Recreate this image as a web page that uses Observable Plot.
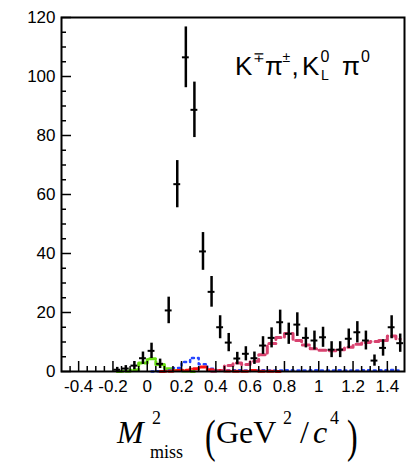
<!DOCTYPE html>
<html><head><meta charset="utf-8">
<script src="https://cdn.jsdelivr.net/npm/d3@7"></script>
<script src="https://cdn.jsdelivr.net/npm/@observablehq/plot@0.6"></script>
<style>body{margin:0;background:#fff} svg{display:block}</style>
</head><body><div id="chart"></div>
<script>
// ---- data ----
const dataX = [-0.175,-0.125,-0.075,-0.025,0.025,0.075,0.125,0.175,0.225,0.275,0.325,0.375,0.425,0.475,0.525,0.575,0.625,0.675,0.725,0.775,0.825,0.875,0.925,0.975,1.025,1.075,1.125,1.175,1.225,1.275,1.325,1.375,1.425,1.475];
const dataY = [0.6,1.0,2.0,4.5,7.0,2.6,20.7,63.5,106.5,88.7,40.7,27.0,15.0,9.8,4.4,6.0,4.5,8.8,11.4,16.7,12.8,15.9,11.4,10.5,11.6,7.4,7.4,11.1,13.3,10.5,3.7,8.0,15.0,9.6];
const dataErr = [0.8,1.0,1.4,2.1,2.6,1.6,4.5,8.0,10.3,9.4,6.4,5.2,3.9,3.1,2.1,2.4,2.1,3.0,3.4,4.1,3.6,4.0,3.4,3.2,3.4,2.7,2.7,3.3,3.6,3.2,1.9,2.8,3.9,3.1];

const greenX = [-0.175,-0.125,-0.075,-0.025,0.025,0.075,0.125,0.175,0.225,0.275];
const greenY = [0,0.1,0.5,2.9,4.3,2.4,0.9,0.3,0.2,0];

const blueX = [0.025,0.075,0.125,0.175,0.225,0.275,0.325,0.375,0.425,0.475,0.525,0.575,0.625,0.675,0.725,0.775,0.825,0.875,0.925,0.975,1.025,1.075,1.125,1.175,1.225,1.275,1.325,1.375,1.425,1.475];
const blueY = [0,0.1,0.3,1.2,3.2,4.6,2.5,0.9,0.4,0.3,0.4,0.3,0.3,0.4,0.3,0.3,0.4,0.3,0.3,0.4,0.3,0.3,0.4,0.3,0.3,0.4,0.3,0.4,0.5,0.3];

const redX = [0.075,0.125,0.175,0.225,0.275,0.325,0.375,0.425,0.475,0.525,0.575,0.625,0.675,0.725,0.775];
const redY = [0,0.1,0.3,0.4,0.9,1.5,0.6,0.3,0.2,0.1,0.1,0.3,0.1,0.1,0];

const pinkX = [0.375,0.425,0.475,0.525,0.575,0.625,0.675,0.725,0.775,0.825,0.875,0.925,0.975,1.025,1.075,1.125,1.175,1.225,1.275,1.325,1.375,1.425,1.475];
const pinkY = [0.1,0.3,2.0,2.9,2.4,3.5,5.7,9.5,11.5,12.9,10.5,9.0,7.7,7.2,7.0,7.4,8.2,9.2,9.8,10.2,10.5,12.0,11.0];

const xTicks = [-0.4,-0.2,0,0.2,0.4,0.6,0.8,1,1.2,1.4];
const yTicks = [0,20,40,60,80,100,120];
const xMinor = d3.range(-0.45, 1.5, 0.05).map(v => +v.toFixed(2));
const yMinor = d3.range(5, 120, 5);

// ---- layout ----
const W = 408, H = 462, mL = 61, mR = 4, mT = 17, mB = 91;
const innerW = W - mL - mR, innerH = H - mT - mB;

const pts = dataX.map((x, i) => ({x, y: dataY[i], lo: dataY[i] - dataErr[i], hi: dataY[i] + dataErr[i]}));
const series = (xs, ys) => xs.map((x, i) => ({x, y: ys[i]}));
const fmt = d => String(+d.toFixed(1));
const sans = "'Liberation Sans', Arial, Helvetica, sans-serif";

const plot = Plot.plot({
  width: W, height: H,
  marginLeft: mL, marginRight: mR, marginTop: mT, marginBottom: mB,
  x: {domain: [-0.5, 1.5], label: null},
  y: {domain: [0, 120], label: null},
  style: {fontFamily: sans, background: "#fff", color: "#000"},
  marks: [
    Plot.line(series(greenX, greenY), {x: "x", y: "y", curve: "step", stroke: "#66dd11", strokeWidth: 3, strokeDasharray: "6,3"}),
    Plot.line(series(blueX, blueY), {x: "x", y: "y", curve: "step", stroke: "#2646ff", strokeWidth: 2.5, strokeDasharray: "2,4"}),
    Plot.line(series(redX, redY), {x: "x", y: "y", curve: "step", stroke: "#ff1010", strokeWidth: 3, strokeDasharray: "6,3"}),
    Plot.line(series(pinkX, pinkY), {x: "x", y: "y", curve: "step", stroke: "#d8426f", strokeWidth: 3, strokeDasharray: "7,4"}),
    Plot.ruleX(pts, {x: "x", y1: "lo", y2: "hi", stroke: "#000", strokeWidth: 2.5, clip: true}),
    Plot.ruleY(pts, {y: "y", x1: d => d.x - 0.02, x2: d => d.x + 0.02, stroke: "#000", strokeWidth: 2}),
    Plot.tickX(xTicks, {x: d => d, insetTop: innerH - 10, stroke: "#000", strokeWidth: 1.5}),
    Plot.tickX(xMinor.filter(v => !xTicks.some(t => Math.abs(t - v) < 1e-6)), {x: d => d, insetTop: innerH - 5, stroke: "#000", strokeWidth: 1.5}),
    Plot.tickY(yTicks, {y: d => d, insetRight: innerW - 10, stroke: "#000", strokeWidth: 1.5}),
    Plot.tickY(yMinor.filter(v => v % 20 !== 0), {y: d => d, insetRight: innerW - 5, stroke: "#000", strokeWidth: 1.5}),
    Plot.axisX(xTicks, {tickSize: 0, tickPadding: 8, tickFormat: fmt, fontSize: 17, label: null}),
    Plot.axisY(yTicks, {tickSize: 0, tickPadding: 6, tickFormat: fmt, fontSize: 17, label: null}),
    Plot.frame({stroke: "#000", strokeWidth: 2})
  ]
});
document.getElementById("chart").appendChild(plot);

const svg = d3.select(plot);
const g = svg.append("g").attr("text-anchor", "start").attr("fill", "#000");
function txt(s, x, y, size, family, opts = {}) {
  const t = g.append("text").attr("text-anchor", "start")
    .attr("font-size", size).attr("font-family", family).text(s);
  if (opts.italic) t.attr("font-style", "italic");
  if (opts.scaleY) t.attr("transform", `translate(${x},${y}) scale(1,${opts.scaleY})`);
  else t.attr("x", x).attr("y", y);
  return t;
}
// annotation K∓π±, K0L π0
txt("K", 235, 75, 26, sans);
txt("\u2213", 253, 62, 14, sans);
txt("\u03C0", 265, 75, 26, sans);
txt("\u00B1", 282.5, 62, 14, sans);
txt(",", 291.5, 75, 26, sans);
txt("K", 302, 75, 26, sans);
txt("0", 320.5, 62, 16, sans);
txt("L", 321, 80, 14, sans);
txt("\u03C0", 342, 75, 26, sans);
txt("0", 361, 62, 16, sans);

// x-axis title M²miss (GeV²/c⁴)
const serif = "'Liberation Serif', 'Times New Roman', Times, serif";
txt("M", 117, 443, 32, serif, {italic: true});
txt("2", 152, 424, 18, serif);
txt("miss", 150, 458, 18, serif);
txt("(", 205, 452, 32, serif, {scaleY: 1.45});
txt("GeV", 216, 443, 32, serif);
txt("2", 283, 424, 18, serif);
txt("/", 300, 443, 32, serif);
txt("c", 313, 443, 32, serif, {italic: true});
txt("4", 330, 424, 18, serif);
txt(")", 347, 452, 32, serif, {scaleY: 1.45});
</script>
</body></html>
